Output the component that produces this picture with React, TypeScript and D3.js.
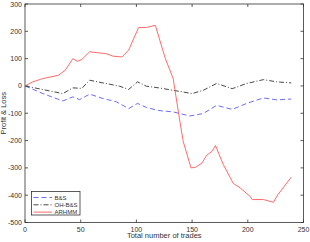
import { useRef, useEffect } from "react";
import * as d3 from "d3";

// trade index, value pairs
const bsTrades = [0, 16, 34, 43, 49, 58, 70, 82, 93, 101, 109, 120, 133, 148, 160, 172, 186, 199, 214, 226, 239];
const bsValues = [0, -28, -55, -40, -50, -30, -46, -58, -83, -64, -79, -90, -95, -110, -101, -71, -86, -64, -44, -51, -48];

const ohTrades = [0, 34, 43, 51, 58, 70, 85, 93, 101, 109, 120, 133, 150, 160, 172, 186, 199, 214, 226, 239];
const ohValues = [0, -28, -7, -9, 21, 11, -1, -13, 15, -1, -7, -16, -28, -16, 9, -10, 9, 23, 15, 11];

const arTrades = [0, 7, 16, 30, 36, 43, 47, 51, 58, 73, 79, 87, 93, 102, 109, 117, 126, 133, 139, 142, 149, 153, 159, 163, 168, 171, 178, 187, 193, 202, 204, 214, 223, 227, 239];
const arValues = [0, 15, 27, 39, 57, 100, 90, 97, 125, 118, 109, 106, 131, 214, 214, 222, 100, 27, -129, -203, -300, -298, -282, -254, -239, -218, -288, -357, -373, -404, -416, -416, -426, -398, -334];

const xTicks = [0, 50, 100, 150, 200, 250];
const yTicks = [-500, -400, -300, -200, -100, 0, 100, 200, 300];

const seriesNames = ["B&S", "OH-B&S", "ARHMM"];
const seriesColors = ["#5a5aff", "#333333", "#ff5a5a"];
const seriesDash = ["5,3", "5,2,1,2", null];

export default function App() {
  const svgRef = useRef<SVGSVGElement>(null);

  useEffect(() => {
    if (!svgRef.current) return;
    const svg = d3.select(svgRef.current);
    svg.selectAll("*").remove();

    const left = 25, right = 303.5, top = 4, bottom = 222.5;
    const x = d3.scaleLinear().domain([0, 250]).range([left, right]);
    const y = d3.scaleLinear().domain([-500, 300]).range([bottom, top]);
    const font = "Liberation Sans, Arial, sans-serif";

    // frame
    svg.append("rect")
      .attr("x", left).attr("y", top)
      .attr("width", right - left).attr("height", bottom - top)
      .attr("fill", "#fff").attr("stroke", "#333").attr("stroke-width", 0.8);

    // inward ticks on all sides
    const tl = 3;
    xTicks.forEach((t) => {
      svg.append("line").attr("x1", x(t)).attr("x2", x(t)).attr("y1", bottom).attr("y2", bottom - tl)
        .attr("stroke", "#333").attr("stroke-width", 0.8);
      svg.append("line").attr("x1", x(t)).attr("x2", x(t)).attr("y1", top).attr("y2", top + tl)
        .attr("stroke", "#333").attr("stroke-width", 0.8);
      svg.append("text").attr("x", x(t)).attr("y", bottom + 9)
        .attr("text-anchor", "middle").attr("font-size", 7).attr("font-family", font)
        .attr("fill", "#333").text(t);
    });
    yTicks.forEach((t) => {
      svg.append("line").attr("x1", left).attr("x2", left + tl).attr("y1", y(t)).attr("y2", y(t))
        .attr("stroke", "#333").attr("stroke-width", 0.8);
      svg.append("line").attr("x1", right).attr("x2", right - tl).attr("y1", y(t)).attr("y2", y(t))
        .attr("stroke", "#333").attr("stroke-width", 0.8);
      svg.append("text").attr("x", left - 3).attr("y", y(t) + 2.5)
        .attr("text-anchor", "end").attr("font-size", 7).attr("font-family", font)
        .attr("fill", "#333").text(t);
    });

    // axis labels
    svg.append("text").attr("x", (left + right) / 2).attr("y", 238)
      .attr("text-anchor", "middle").attr("font-size", 7.5).attr("font-family", font)
      .attr("fill", "#333").text("Total number of trades");
    svg.append("text")
      .attr("transform", `translate(6,${(top + bottom) / 2}) rotate(-90)`)
      .attr("text-anchor", "middle").attr("font-size", 7.5).attr("font-family", font)
      .attr("fill", "#333").text("Profit & Loss");

    const series = [
      bsTrades.map((t, i) => [t, bsValues[i]]),
      ohTrades.map((t, i) => [t, ohValues[i]]),
      arTrades.map((t, i) => [t, arValues[i]]),
    ];
    const line = d3.line<number[]>().x((d) => x(d[0])).y((d) => y(d[1]));

    series.forEach((s, i) => {
      svg.append("path").attr("d", line(s))
        .attr("fill", "none").attr("stroke", seriesColors[i]).attr("stroke-width", 0.9)
        .attr("stroke-dasharray", seriesDash[i]);
    });

    // legend
    const lg = svg.append("g");
    lg.append("rect").attr("x", 31.5).attr("y", 191.5).attr("width", 48.5).attr("height", 23.5)
      .attr("fill", "#fff").attr("stroke", "#333").attr("stroke-width", 0.8);
    seriesNames.forEach((n, i) => {
      const ly = 197.5 + i * 7.3;
      lg.append("line").attr("x1", 33.5).attr("x2", 52).attr("y1", ly).attr("y2", ly)
        .attr("stroke", seriesColors[i]).attr("stroke-width", 0.9)
        .attr("stroke-dasharray", seriesDash[i]);
      lg.append("text").attr("x", 54.5).attr("y", ly + 2.2)
        .attr("font-size", 6).attr("font-family", font).attr("fill", "#333").text(n);
    });
  }, []);

  return (
    <div style={{ position: "absolute", left: 0, top: 0 }}>
      <svg ref={svgRef} width={310} height={242} style={{ display: "block" }} />
    </div>
  );
}
